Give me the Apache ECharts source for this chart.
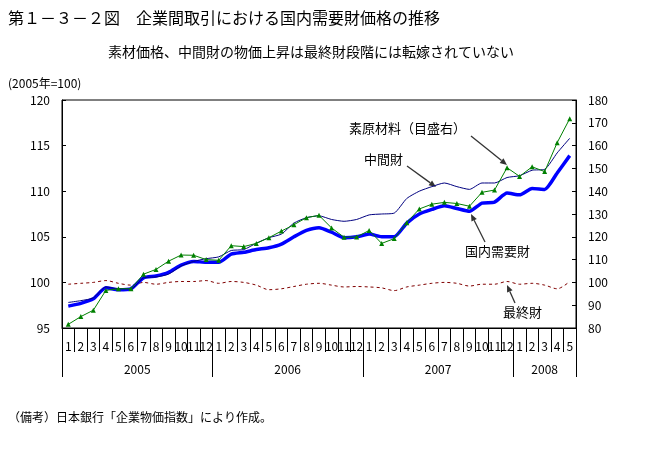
<!DOCTYPE html>
<html><head><meta charset="utf-8">
<script src="https://cdn.jsdelivr.net/npm/echarts@6/dist/echarts.min.js"></script>
<style>html,body{margin:0;padding:0;background:#fff}#c{width:659px;height:451px}</style>
</head><body><div id="c"></div>
<script>
// ---- data ----
const months = ['1','2','3','4','5','6','7','8','9','10','11','12',
                '1','2','3','4','5','6','7','8','9','10','11','12',
                '1','2','3','4','5','6','7','8','9','10','11','12',
                '1','2','3','4','5'];
const years = ['2005','2006','2007','2008'];
const yearBounds = [0,12,24,36,41];
const yearMids = [6,18,30,38.5];
// 国内需要財 (left axis)
const domestic = [97.4,97.7,98.2,99.4,99.2,99.3,100.5,100.7,101.1,101.9,102.3,102.2,
                  102.2,103.1,103.3,103.6,103.8,104.2,105.0,105.7,106.0,105.5,104.9,105.0,
                  105.3,105.0,105.0,106.5,107.5,108.0,108.4,108.1,107.8,108.7,108.8,109.8,
                  109.6,110.3,110.2,112.0,113.9];
// 中間財 (left axis)
const intermediate = [97.8,98.0,98.3,99.5,99.3,99.3,100.5,100.6,100.9,101.8,102.3,102.6,
                      102.8,103.5,103.6,104.3,104.9,105.3,106.5,107.1,107.3,106.9,106.7,106.9,
                      107.4,107.5,107.6,109.2,110.0,110.5,110.9,110.5,110.2,110.9,110.9,111.5,
                      111.7,112.3,112.4,114.2,115.8];
// 素原材料 (right axis)
const rawMaterials = [81.6,85.0,87.8,96.5,97.2,97.2,103.6,105.7,109.3,112.0,111.9,110.0,
                      109.7,116.1,115.7,117.1,119.6,122.5,125.3,128.4,129.4,123.9,119.8,119.9,
                      122.8,117.1,119.2,126.2,132.2,134.3,135.1,134.6,133.4,139.5,140.5,150.3,
                      146.5,150.7,148.6,161.3,171.8];
// 最終財 (left axis)
const finalGoods = [99.8,99.9,100.0,100.2,99.9,99.7,100.0,99.8,100.0,100.1,100.1,100.2,
                    99.9,100.1,100.0,99.7,99.2,99.3,99.55,99.8,99.9,99.7,99.5,99.55,
                    99.5,99.4,99.1,99.5,99.7,99.9,100.0,99.9,99.6,99.8,99.8,100.1,
                    99.8,99.9,99.7,99.3,100.1];

const FONT = '"Noto Sans CJK JP", "Noto Sans", sans-serif';

function arrow(x1,y1,x2,y2){
  const dx=x2-x1, dy=y2-y1, L=Math.hypot(dx,dy), ux=dx/L, uy=dy/L;
  const h=7, w=3;
  const bx=x2-ux*h, by=y2-uy*h;
  return [
    {type:'line',shape:{x1:x1,y1:y1,x2:bx,y2:by},style:{stroke:'#333',lineWidth:1.3}},
    {type:'polygon',shape:{points:[[x2,y2],[bx-uy*w,by+ux*w],[bx+uy*w,by-ux*w]]},style:{fill:'#333'}}
  ];
}
function txt(x,y,s,size,align){
  return {type:'text',x:x,y:y,style:{text:s,fontSize:size,fontFamily:FONT,fill:'#000',
    textAlign:align||'left',textVerticalAlign:'middle'}};
}

const chart = echarts.init(document.getElementById('c'), null, {renderer:'canvas'});
const option = {
  animation:false,
  backgroundColor:'#fff',
  grid:{left:62,right:83,top:100,bottom:123,show:true,borderColor:'#000',borderWidth:1,backgroundColor:'transparent'},
  xAxis:[
    {type:'category',data:months,boundaryGap:true,position:'bottom',
     axisLine:{show:true,onZero:false,lineStyle:{color:'#000',width:1}},
     axisTick:{show:true,interval:0,alignWithLabel:false,length:24,lineStyle:{color:'#000',width:1}},
     axisLabel:{interval:0,margin:12,fontSize:12,color:'#000',fontFamily:FONT}},
    {type:'value',min:0,max:41,position:'bottom',
     axisLine:{show:false,onZero:false},splitLine:{show:false},
     axisTick:{show:true,customValues:yearBounds,length:49,lineStyle:{color:'#000'}},
     axisLabel:{show:true,customValues:yearMids,margin:35,fontSize:12,color:'#000',fontFamily:FONT,
       formatter:function(v){const i=yearMids.indexOf(v);return i>=0?years[i]:'';}}}
  ],
  yAxis:[
    {type:'value',min:95,max:120,interval:5,position:'left',
     axisLine:{show:true,lineStyle:{color:'#000'}},
     axisTick:{show:true,inside:true,length:4,lineStyle:{color:'#000'}},
     splitLine:{show:false},
     axisLabel:{margin:12,fontSize:12,color:'#000',fontFamily:FONT}},
    {type:'value',min:80,max:180,interval:10,position:'right',
     axisLine:{show:true,lineStyle:{color:'#000'}},
     axisTick:{show:true,inside:true,length:4,lineStyle:{color:'#000'}},
     splitLine:{show:false},
     axisLabel:{margin:12,fontSize:12,color:'#000',fontFamily:FONT}}
  ],
  series:[
    {name:'最終財',type:'line',data:finalGoods,yAxisIndex:0,smooth:0.3,symbol:'none',
     lineStyle:{color:'#800000',width:1,type:[3,3]}},
    {name:'国内需要財',type:'line',data:domestic,yAxisIndex:0,smooth:0.2,symbol:'none',
     lineStyle:{color:'#0000ff',width:3.5}},
    {name:'中間財',type:'line',data:intermediate,yAxisIndex:0,smooth:0.2,symbol:'none',
     lineStyle:{color:'#000080',width:1}},
    {name:'素原材料',type:'line',data:rawMaterials,yAxisIndex:1,smooth:false,
     symbol:'triangle',symbolSize:5,itemStyle:{color:'#008000'},
     lineStyle:{color:'#008000',width:1}}
  ],
  graphic:[].concat(
    [txt(8,18,'第１－３－２図　企業間取引における国内需要財価格の推移',16),
     txt(108,52,'素材価格、中間財の物価上昇は最終財段階には転嫁されていない',14),
     txt(8,83,'(2005年=100)',12),
     txt(8,417,'（備考）日本銀行「企業物価指数」により作成。',12),
     txt(349,128,'素原材料（目盛右）',13),
     txt(364,159,'中間財',13),
     txt(465,251,'国内需要財',13),
     txt(503,312,'最終財',13)],
    arrow(471,136,507,165),
    arrow(407,166,436,187),
    arrow(485,242,471,214),
    arrow(515,303,507,285)
  )
};
chart.setOption(option);
</script>
</body></html>
